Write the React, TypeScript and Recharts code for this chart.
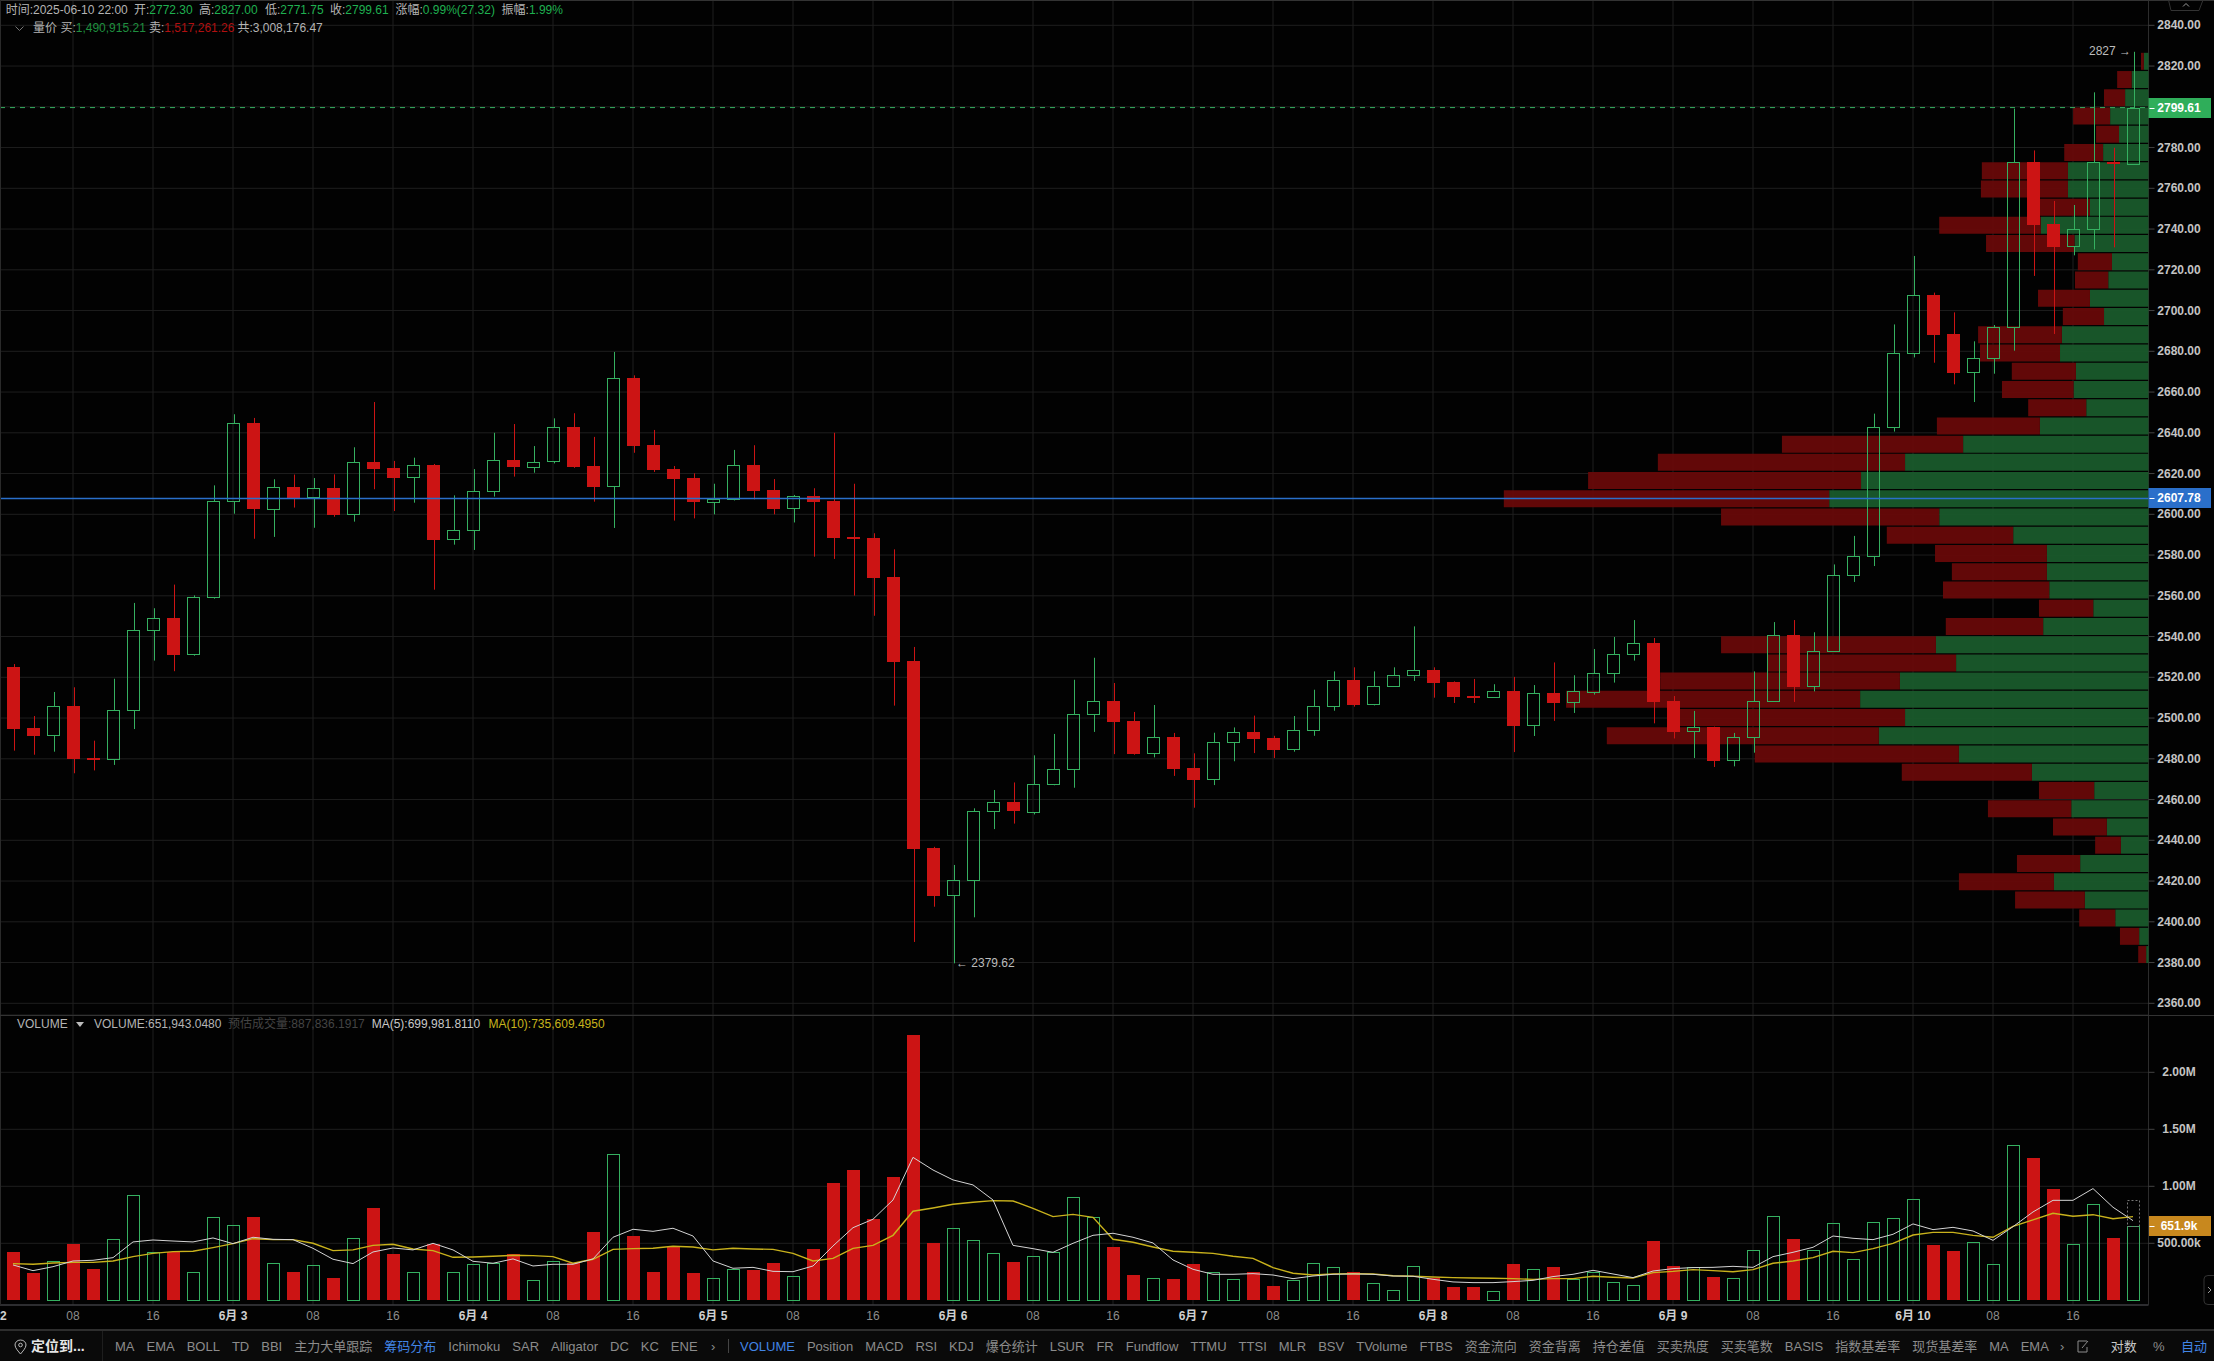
import React from 'react';
import { Bar, BarChart, CartesianGrid, ComposedChart, Line, ReferenceDot, ReferenceLine, XAxis, YAxis } from 'recharts';

const FONT = '"Liberation Sans", Arial, "Noto Sans CJK SC", sans-serif';
const GRID = '#1e1e1e';
const UP = '#35b060';
const DOWN = '#cc1414';
const TEXT = '#b4b4b4';

// 2h candles, 06-02 02:00 .. 06-10 22:00
const opens = [2525, 2495.1, 2491.5, 2505.9, 2480.4, 2479.7, 2503.8, 2542.9, 2549.1, 2531.1, 2559.3, 2606.4, 2644.7, 2602.4, 2613.4, 2608.3, 2612.9, 2600, 2625.7, 2622.7, 2618, 2624.2, 2587.6, 2592.1, 2611.1, 2626.7, 2623.4, 2625.8, 2642.9, 2623.7, 2613.6, 2666.9, 2634, 2622.2, 2617.8, 2606.2, 2607.2, 2624.2, 2611.9, 2602.8, 2609, 2606.5, 2588.8, 2588.4, 2569.2, 2528, 2436.2, 2412.8, 2420.2, 2454, 2458.6, 2454, 2467.3, 2474.8, 2501.8, 2508.4, 2498.6, 2482.5, 2490.7, 2475.5, 2469.8, 2487.9, 2493.2, 2490.2, 2484.5, 2493.8, 2505.6, 2518.7, 2506.6, 2515.4, 2520.8, 2523.6, 2517.7, 2510.8, 2510, 2513.3, 2496.3, 2512.3, 2507.5, 2512.9, 2521.8, 2531.1, 2536.8, 2508.4, 2493.3, 2495.6, 2479.1, 2490.4, 2508, 2540.8, 2515.4, 2532.6, 2569.9, 2579.2, 2642.7, 2678.8, 2707.6, 2688.5, 2669.5, 2676.4, 2691.6, 2772.9, 2742.5, 2731.4, 2739.7, 2772.9, 2772.3];
const highs = [2526.5, 2501, 2512.8, 2515.1, 2488.9, 2519.3, 2556.5, 2553.9, 2565.5, 2560.2, 2614.2, 2649.1, 2647.3, 2617.2, 2619.5, 2617.8, 2619.6, 2632.9, 2655.1, 2626.2, 2627.8, 2624.7, 2609.3, 2622.2, 2640, 2644.3, 2633.5, 2647.1, 2649.6, 2638, 2679.7, 2668.2, 2641.4, 2623.7, 2620.1, 2615, 2631.6, 2633.9, 2617.3, 2609.5, 2612.8, 2640, 2615, 2590.7, 2582.8, 2534.9, 2436.8, 2427.9, 2455.7, 2464.7, 2468.4, 2481.7, 2492.2, 2518.8, 2529.6, 2517.2, 2503, 2506.4, 2492.7, 2482.7, 2492.8, 2495.4, 2501.2, 2491.3, 2501, 2513.9, 2522.9, 2524.9, 2522.9, 2524.9, 2545, 2524.9, 2518, 2519.2, 2516.6, 2520.2, 2516.2, 2527.3, 2521, 2533.9, 2539.8, 2548.1, 2539.3, 2510.8, 2503.5, 2495.8, 2492.7, 2522.9, 2547.1, 2548.1, 2542.1, 2575.4, 2589.4, 2649.4, 2693.2, 2726.8, 2708.8, 2699.1, 2684.9, 2692.9, 2799.1, 2778.6, 2753.8, 2751.8, 2807.1, 2779.9, 2827];
const lows = [2484, 2482, 2483.5, 2472.9, 2474.3, 2477, 2494.6, 2528.2, 2523, 2530.6, 2558.6, 2600.3, 2588, 2588.9, 2603.3, 2593.4, 2598.8, 2596.4, 2612.3, 2601.6, 2605.7, 2563, 2585.1, 2582.5, 2608.7, 2618.5, 2620.4, 2625, 2622.8, 2606.2, 2593.3, 2630.2, 2620.8, 2596.9, 2598, 2600, 2606.8, 2607.3, 2600, 2596, 2579.2, 2578.1, 2560.1, 2550.2, 2506.1, 2390.1, 2407.4, 2379.62, 2402.2, 2445.5, 2448.2, 2452.7, 2467, 2465.8, 2493.2, 2482.3, 2482, 2480.7, 2471.6, 2456, 2467.1, 2478.8, 2482.8, 2480.4, 2483.5, 2491.3, 2503.6, 2505.6, 2506.2, 2515.3, 2518.2, 2510, 2507.4, 2507.4, 2510, 2483.3, 2491.2, 2498.6, 2502.5, 2511.5, 2517.4, 2528.2, 2497.4, 2490, 2480.4, 2476, 2476.3, 2483, 2508, 2507.9, 2513.1, 2532.6, 2566.8, 2574.6, 2640.6, 2677, 2674.4, 2663.8, 2655.1, 2669, 2680.3, 2717, 2688.5, 2727.1, 2730, 2731, 2771.75];
const closes = [2494.8, 2491.4, 2505.8, 2479.9, 2479.6, 2503.8, 2543.1, 2548.9, 2531.1, 2559.3, 2606.4, 2644.7, 2602.3, 2613.2, 2608.2, 2612.8, 2599.8, 2625.5, 2622.2, 2618, 2624, 2587.6, 2592.1, 2611.3, 2626.5, 2623.2, 2625.8, 2642.7, 2623.2, 2613.4, 2666.7, 2633.7, 2621.7, 2617.3, 2606, 2607.5, 2624, 2611.6, 2602.6, 2608.8, 2606.2, 2588.5, 2587.9, 2568.9, 2527.5, 2435.7, 2412.6, 2420.3, 2454.2, 2458.6, 2454, 2467.5, 2474.8, 2501.8, 2508.2, 2498.2, 2482.4, 2490.5, 2475, 2469.6, 2488.1, 2493, 2489.7, 2484.3, 2494, 2505.7, 2518.5, 2506.4, 2515.6, 2520.9, 2523.4, 2517.2, 2510.3, 2509.8, 2513.1, 2496.1, 2512.1, 2507.4, 2513.1, 2522, 2531.3, 2536.6, 2507.9, 2493.1, 2495.4, 2478.9, 2490.5, 2508.2, 2540.6, 2515.2, 2532.7, 2570, 2579.4, 2642.7, 2679, 2707.5, 2688, 2669.4, 2676.6, 2691.8, 2772.8, 2742, 2731.2, 2739.9, 2772.8, 2772.3, 2799.61];

// volume in thousands
const volumes = [424, 240, 342, 494, 275, 535, 921, 421, 427, 246, 728, 658, 731, 325, 249, 307, 196, 544, 810, 406, 246, 494, 246, 316, 327, 406, 175, 342, 325, 599, 1281, 564, 249, 471, 240, 193, 272, 266, 327, 210, 450, 1029, 1143, 713, 1082, 2327, 503, 632, 526, 412, 336, 386, 421, 909, 734, 468, 222, 193, 187, 319, 246, 184, 249, 126, 175, 325, 289, 249, 149, 88, 298, 196, 117, 117, 79, 319, 272, 292, 184, 251, 164, 132, 520, 301, 289, 205, 193, 439, 737, 538, 439, 675, 360, 684, 719, 886, 485, 433, 509, 316, 1360, 1249, 977, 491, 842, 547, 652];
const ma5 = [310, 260, 295, 345, 351, 374, 512, 529, 520, 512, 547, 497, 553, 535, 532, 456, 360, 322, 424, 459, 442, 500, 442, 342, 325, 363, 301, 316, 316, 363, 553, 623, 605, 632, 564, 345, 281, 289, 254, 251, 301, 477, 637, 711, 880, 1254, 1143, 1056, 1012, 880, 482, 453, 421, 500, 570, 588, 553, 503, 354, 272, 228, 228, 234, 222, 190, 213, 228, 231, 228, 213, 211, 184, 161, 155, 155, 164, 175, 208, 228, 263, 231, 199, 257, 278, 287, 289, 298, 289, 383, 421, 465, 564, 544, 532, 579, 670, 620, 640, 608, 526, 646, 775, 877, 877, 980, 816, 699];
const ma10 = [322, 316, 327, 333, 333, 345, 383, 412, 427, 430, 462, 497, 541, 532, 532, 500, 436, 442, 482, 491, 450, 436, 377, 380, 386, 395, 392, 383, 325, 360, 447, 453, 456, 474, 468, 442, 456, 450, 447, 412, 345, 368, 456, 482, 570, 781, 810, 842, 860, 874, 871, 807, 734, 754, 728, 535, 509, 468, 430, 421, 412, 386, 368, 287, 237, 222, 231, 234, 231, 216, 211, 205, 199, 196, 193, 190, 184, 190, 190, 211, 202, 196, 243, 254, 269, 260, 251, 269, 325, 345, 374, 430, 418, 453, 500, 573, 596, 596, 570, 553, 649, 705, 763, 737, 751, 716, 734];
const estimatedVolume = 880;

// volume by price, 50 bins from the high down to the low
const profileBuy = [10, 36, 50, 82, 63, 97, 172, 172, 125, 230, 158, 78, 86, 125, 95, 185, 189, 155, 160, 133, 232, 396, 520, 614, 682, 447, 289, 217, 217, 212, 118, 225, 454, 411, 531, 616, 520, 576, 405, 249, 116, 165, 89, 59, 146, 202, 136, 71, 20, 5];
const profileSell = [6, 31, 45, 79, 49, 83, 184, 186, 128, 217, 189, 73, 71, 111, 88, 179, 171, 137, 153, 124, 220, 387, 528, 583, 695, 466, 270, 239, 203, 227, 116, 208, 459, 403, 512, 628, 495, 581, 436, 278, 118, 178, 115, 55, 135, 203, 149, 77, 41, 17];

const priceTicks = [2840, 2820, 2800, 2780, 2760, 2740, 2720, 2700, 2680, 2660, 2640, 2620, 2600, 2580, 2560, 2540, 2520, 2500, 2480, 2460, 2440, 2420, 2400, 2380, 2360];
const volumeTicks = [500, 1000, 1500, 2000];
const lastPrice = 2799.61;
const maxPrice = 2607.78;

const toolbarLeft = ['MA', 'EMA', 'BOLL', 'TD', 'BBI', '主力大单跟踪', '筹码分布', 'Ichimoku', 'SAR', 'Alligator', 'DC', 'KC', 'ENE'];
const toolbarRight = ['VOLUME', 'Position', 'MACD', 'RSI', 'KDJ', '爆仓统计', 'LSUR', 'FR', 'Fundflow', 'TTMU', 'TTSI', 'MLR', 'BSV', 'TVolume', 'FTBS', '资金流向', '资金背离', '持仓差值', '买卖热度', '买卖笔数', 'BASIS', '指数基差率', '现货基差率', 'MA', 'EMA'];

const pad = (n: number) => String(n).padStart(2, '0');

const candles = opens.map((open, i) => {
  const hours = 2 + i * 2;
  const day = 2 + Math.floor(hours / 24);
  const hour = hours % 24;
  return {
    time: `06-${pad(day)} ${pad(hour)}`,
    day,
    hour,
    open,
    high: highs[i],
    low: lows[i],
    close: closes[i],
    range: [lows[i], highs[i]],
    volume: volumes[i],
    ma5: ma5[i],
    ma10: ma10[i],
    estimate: i === volumes.length - 1 ? estimatedVolume - volumes[i] : 0,
  };
});
const timeTicks = candles.filter((c) => c.hour % 8 === 0).map((c) => c.time);
const profile = profileBuy.map((buy, i) => ({ bin: i, buy, sell: profileSell[i] }));

function Candle(props: any) {
  const { x, y, width, height, payload } = props;
  const { open, close, high, low } = payload;
  const k = height / (high - low);
  const up = close >= open;
  const color = up ? UP : DOWN;
  const cx = Math.round(x + width / 2) + 0.5;
  const top = Math.round(y + (high - Math.max(open, close)) * k);
  const h = Math.max(Math.round(Math.abs(open - close) * k), 2);
  const left = Math.round(x);
  return (
    <g>
      <line x1={cx} x2={cx} y1={y} y2={top} stroke={color} strokeWidth={1} />
      <line x1={cx} x2={cx} y1={top + h} y2={y + height} stroke={color} strokeWidth={1} />
      {up ? (
        <rect x={left + 0.5} y={top + 0.5} width={width - 1} height={h} fill="none" stroke={color} strokeWidth={1} />
      ) : (
        <rect x={left} y={top} width={width} height={h} fill={color} />
      )}
    </g>
  );
}

function VolumeBar(props: any) {
  const { x, y, width, height, payload } = props;
  const top = Math.round(y);
  const h = Math.round(y + height) - top;
  if (payload.close >= payload.open) {
    return <rect x={Math.round(x) + 0.5} y={top + 0.5} width={width - 1} height={h} fill="none" stroke={UP} strokeWidth={1} />;
  }
  return <rect x={Math.round(x)} y={top} width={width} height={h} fill={DOWN} />;
}

function EstimateBar(props: any) {
  const { x, y, width, height } = props;
  if (!height) return null;
  return <rect x={Math.round(x) + 0.5} y={Math.round(y) + 0.5} width={width - 1} height={Math.round(height)} fill="none" stroke="#777" strokeDasharray="2 2" />;
}

function AxisTick(props: any) {
  const { x, y, payload, format } = props;
  return (
    <text x={x} y={y} dy={4} textAnchor="middle" fill="#c4c4c4" fontSize={12} fontWeight={600} fontFamily={FONT}>
      {format(payload.value)}
    </text>
  );
}

function TimeTick(props: any) {
  const { x, y, payload } = props;
  const c = candles.find((d) => d.time === payload.value);
  if (!c) return null;
  const isDay = c.hour === 0;
  return (
    <text x={x} y={y} dy={4} textAnchor="middle" fill={isDay ? '#d0d0d0' : '#8c8c8c'} fontSize={12} fontWeight={isDay ? 700 : 400} fontFamily={FONT}>
      {isDay ? `6月 ${c.day}` : pad(c.hour)}
    </text>
  );
}

function Tag({ viewBox, fill, text }: any) {
  const right = viewBox.x + viewBox.width;
  const y = Math.round(viewBox.y);
  return (
    <g>
      <rect x={right} y={y - 10} width={62.5} height={20} fill={fill} />
      <line x1={right + 1} x2={right + 6} y1={y + 0.5} y2={y + 0.5} stroke="#fff" />
      <text x={right + 30.5} y={y + 4} textAnchor="middle" fill="#fff" fontSize={12} fontWeight={700} fontFamily={FONT}>
        {text}
      </text>
    </g>
  );
}

function Label({ x, y, color = TEXT, size = 12, weight, children }: any) {
  return (
    <div style={{ position: 'absolute', left: x, top: y, transform: 'translateY(-50%)', color, fontSize: size, fontWeight: weight, whiteSpace: 'nowrap', lineHeight: 1 }}>
      {children}
    </div>
  );
}

const up = (s: string) => <span style={{ color: '#1fb050' }}>{s}</span>;

const layer = { position: 'absolute', left: 0, top: 0 } as const;
const priceDomain = [2354.26, 2852.42];

function PriceChart() {
  const margin = { top: 0, right: 65.5, bottom: 0, left: 0 };
  return (
    <>
      {/* grid and price labels */}
      <ComposedChart style={layer} width={2214} height={1015} data={candles} margin={{ ...margin, right: 0 }}>
        <CartesianGrid stroke={GRID} />
        <XAxis dataKey="time" hide ticks={timeTicks} interval={0} padding={{ left: 3, right: 5.5 }} />
        <YAxis
          orientation="right"
          width={65.5}
          domain={priceDomain}
          ticks={priceTicks}
          interval={0}
          tickLine={{ stroke: '#444' }}
          tickSize={6}
          tickMargin={24.5}
          axisLine={{ stroke: '#2c2c2c' }}
          tick={<AxisTick format={(v: number) => v.toFixed(2)} />}
        />
        <Bar dataKey="range" barSize={13} shape={() => null} isAnimationActive={false} />
      </ComposedChart>

      {/* volume by price */}
      <BarChart style={layer} layout="vertical" width={2214} height={1015} data={profile} margin={{ top: 51.8, right: 65.5, bottom: 51.7, left: 0 }} barCategoryGap={0}>
        <XAxis type="number" hide reversed domain={[0, 4589]} />
        <YAxis type="category" dataKey="bin" hide />
        <Bar dataKey="buy" stackId="p" fill="#1a5a2c" fillOpacity={0.94} barSize={17} isAnimationActive={false} />
        <Bar dataKey="sell" stackId="p" fill="#680909" fillOpacity={0.94} barSize={17} isAnimationActive={false} />
      </BarChart>

      {/* candles */}
      <ComposedChart style={layer} width={2214} height={1015} data={candles} margin={margin}>
        <XAxis dataKey="time" hide padding={{ left: 3, right: 5.5 }} />
        <YAxis hide domain={priceDomain} />
        <ReferenceLine y={lastPrice} stroke={UP} strokeDasharray="5 5" label={(p: any) => <Tag {...p} fill="#2fae5a" text={lastPrice.toFixed(2)} />} />
        <ReferenceLine y={maxPrice} stroke="#2a6fca" strokeWidth={1.5} label={(p: any) => <Tag {...p} fill="#2a6fca" text={maxPrice.toFixed(2)} />} />
        <Bar dataKey="range" barSize={13} shape={<Candle />} isAnimationActive={false} />
        <ReferenceDot x={candles[47].time} y={2379.62} r={0} stroke="none" label={{ value: '← 2379.62', position: 'right', offset: 3, fill: '#bcbcbc', fontSize: 12, fontFamily: FONT, dy: -1 }} />
        <ReferenceDot x={candles[106].time} y={2827} r={0} stroke="none" label={{ value: '2827 →', position: 'left', offset: 2, fill: '#bcbcbc', fontSize: 12, fontFamily: FONT, dy: -1 }} />
      </ComposedChart>
    </>
  );
}

function VolumeChart() {
  return (
    <ComposedChart style={{ position: 'absolute', left: 0, top: 1015 }} width={2214} height={315} data={candles} margin={{ top: 0, right: 0, bottom: 0, left: 0 }}>
      <CartesianGrid stroke={GRID} />
      <XAxis
        dataKey="time"
        height={25}
        ticks={timeTicks}
        interval={0}
        padding={{ left: 3, right: 5.5 }}
        tickSize={0}
        tickMargin={11}
        axisLine={{ stroke: '#4a4a50' }}
        tick={<TimeTick />}
      />
      <YAxis
        orientation="right"
        width={65.5}
        domain={[-41.2, 2502.6]}
        ticks={volumeTicks}
        interval={0}
        tickLine={{ stroke: '#444' }}
        tickSize={6}
        tickMargin={24.5}
        axisLine={{ stroke: '#2c2c2c' }}
        tick={<AxisTick format={(v: number) => (v < 1000 ? `${v.toFixed(2)}k` : `${(v / 1000).toFixed(2)}M`)} />}
      />
      <Bar dataKey="volume" stackId="v" barSize={13} shape={<VolumeBar />} isAnimationActive={false} />
      <Bar dataKey="estimate" stackId="v" barSize={13} shape={<EstimateBar />} isAnimationActive={false} />
      <Line dataKey="ma10" stroke="#c9b21c" strokeWidth={1.4} dot={false} isAnimationActive={false} />
      <Line dataKey="ma5" stroke="#d4d4d4" strokeWidth={1} dot={false} isAnimationActive={false} />
      <ReferenceLine y={651.943} stroke="none" label={(p: any) => <Tag {...p} fill="#c8881e" text="651.9k" />} />
    </ComposedChart>
  );
}

function Toolbar() {
  const item = (s: string, i: number) => (
    <span key={i} style={{ color: s === '筹码分布' || s === 'VOLUME' ? '#4285e6' : '#8c8c8c' }}>
      {s}
    </span>
  );
  const row = { position: 'absolute', top: 1346, transform: 'translateY(-50%)', display: 'flex', gap: 12, fontSize: 13, lineHeight: 1, whiteSpace: 'nowrap' } as const;
  return (
    <>
      <div style={{ position: 'absolute', left: 0, top: 1329, width: 2214, height: 32, background: '#0a0a0a', borderTop: '2px solid #2e2e2e', boxSizing: 'border-box' }} />
      <div style={{ position: 'absolute', left: 102, top: 1331, width: 1, height: 30, background: '#1e1e1e' }} />
      <svg style={{ position: 'absolute', left: 14, top: 1339 }} width={13} height={16}>
        <path d="M6.5 1 C3 1 1 3.5 1 6 C1 9 4.5 12.5 6.5 15 C8.5 12.5 12 9 12 6 C12 3.5 10 1 6.5 1 Z" fill="none" stroke="#bbb" />
        <circle cx={6.5} cy={6} r={1.8} fill="none" stroke="#bbb" />
      </svg>
      <Label x={31} y={1346} color="#e6e6e6" size={14} weight={700}>定位到...</Label>
      <div style={{ ...row, left: 115 }}>{toolbarLeft.map(item)}</div>
      <Label x={711} y={1346} color="#8c8c8c" size={13}>›</Label>
      <div style={{ position: 'absolute', left: 728, top: 1339, width: 1, height: 14, background: '#444' }} />
      <div style={{ ...row, left: 740 }}>{toolbarRight.map(item)}</div>
      <Label x={2060} y={1346} color="#8c8c8c" size={13}>›</Label>
      <svg style={{ position: 'absolute', left: 2077, top: 1340 }} width={12} height={13}>
        <path d="M10 1 H1 V12 H10 V7 M5 8 L11 1" fill="none" stroke="#8c8c8c" />
      </svg>
      <Label x={2110.7} y={1346} color="#c8c8c8" size={13}>对数</Label>
      <Label x={2153} y={1346} color="#8c8c8c" size={13}>%</Label>
      <Label x={2181} y={1346} color="#4285e6" size={13}>自动</Label>
    </>
  );
}

export default function App() {
  return (
    <div style={{ position: 'fixed', left: 0, top: 0, width: 2214, height: 1361, background: '#020202', overflow: 'hidden', fontFamily: FONT }}>
      <PriceChart />
      <VolumeChart />

      <div style={{ position: 'absolute', left: 0, top: 0, width: 2214, height: 1, background: '#333' }} />
      <div style={{ position: 'absolute', left: 0, top: 0, width: 1, height: 1305, background: '#2a2a2a' }} />
      <div style={{ position: 'absolute', left: 0, top: 1015, width: 2214, height: 1, background: '#333' }} />

      {/* price header */}
      <Label x={5.7} y={10}>时间:2025-06-10 22:00</Label>
      <Label x={134} y={10}>开:{up('2772.30')}</Label>
      <Label x={199} y={10}>高:{up('2827.00')}</Label>
      <Label x={265} y={10}>低:{up('2771.75')}</Label>
      <Label x={330} y={10}>收:{up('2799.61')}</Label>
      <Label x={395.5} y={10}>涨幅:{up('0.99%(27.32)')}</Label>
      <Label x={501.6} y={10}>振幅:{up('1.99%')}</Label>
      <svg style={{ position: 'absolute', left: 15, top: 26 }} width={9} height={6}>
        <path d="M0.5 0.5 L4.5 4.5 L8.5 0.5" fill="none" stroke="#777" />
      </svg>
      <Label x={33} y={28}>量价</Label>
      <Label x={60.4} y={28}>买:<span style={{ color: '#1f8f3f' }}>1,490,915.21</span></Label>
      <Label x={149} y={28}>卖:<span style={{ color: '#b01010' }}>1,517,261.26</span></Label>
      <Label x={237.4} y={28}>共:3,008,176.47</Label>

      {/* volume header */}
      <Label x={17} y={1024}>VOLUME</Label>
      <svg style={{ position: 'absolute', left: 76, top: 1022 }} width={8} height={5}>
        <path d="M0 0 H8 L4 5 Z" fill="#bbb" />
      </svg>
      <Label x={94} y={1024}>VOLUME:651,943.0480</Label>
      <Label x={228} y={1024} color="#444">预估成交量:887,836.1917</Label>
      <Label x={371.7} y={1024} color="#c8c8c8">MA(5):699,981.8110</Label>
      <Label x={488.5} y={1024} color="#c8b41c">MA(10):735,609.4950</Label>

      {/* cut off day label at the left edge */}
      <Label x={0} y={1316} color="#d0d0d0" weight={700}>2</Label>

      <svg style={{ position: 'absolute', left: 2168, top: 0 }} width={36} height={11}>
        <path d="M0.5 0 L3 10.5 H31 L35 0" fill="none" stroke="#333" />
        <path d="M15 6.5 L18 3.5 L21 6.5" fill="none" stroke="#999" />
      </svg>
      <svg style={{ position: 'absolute', left: 2203, top: 1275 }} width={11} height={30}>
        <path d="M11 0.5 H5 Q1 0.5 1 4 V26 Q1 29.5 5 29.5 H11" fill="none" stroke="#333" />
        <path d="M5 12 L8 15 L5 18" fill="none" stroke="#999" />
      </svg>

      <Toolbar />
    </div>
  );
}
